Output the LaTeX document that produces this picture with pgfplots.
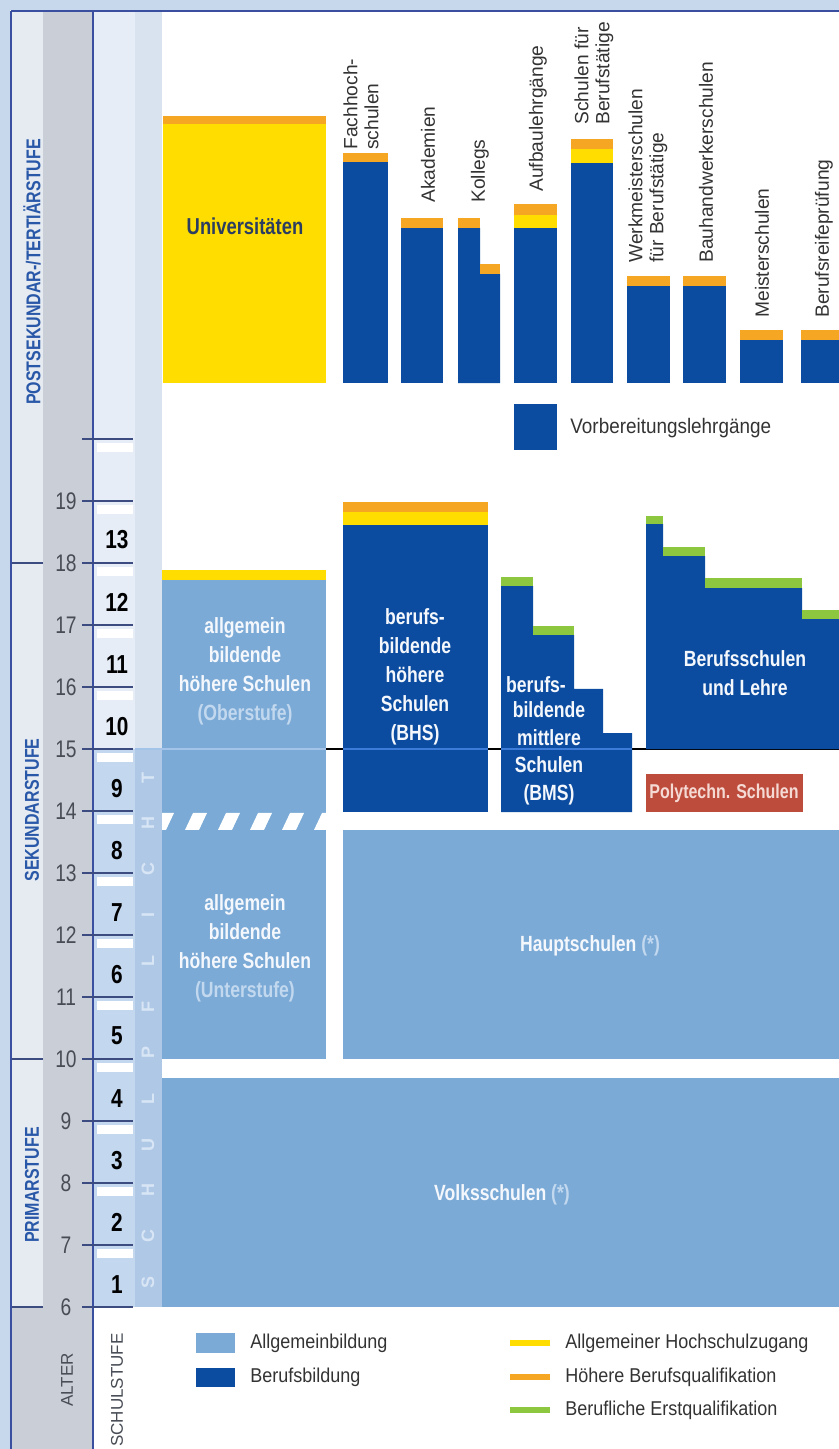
\documentclass[border=0pt]{standalone}
\usepackage{pgfplots}
\pgfplotsset{compat=1.18}
\usepackage{fontspec}
\setmainfont{Liberation Sans}
\newfontfamily\cond[FakeStretch=0.8]{Liberation Sans}
\newfontfamily\leg[FakeStretch=0.9]{Liberation Sans}

\definecolor{cBand}{HTML}{C8D8EC}
\definecolor{cLine}{HTML}{3B4FA0}
\definecolor{cStage}{HTML}{E6EBF1}
\definecolor{cGrey}{HTML}{CACFD7}
\definecolor{cStufeHi}{HTML}{E6EDF6}
\definecolor{cStufeLo}{HTML}{C3D7EE}
\definecolor{cPflHi}{HTML}{D9E3EF}
\definecolor{cPflLo}{HTML}{AFC8E6}
\definecolor{cTick}{HTML}{3D4C80}
\definecolor{cLight}{HTML}{7BAAD6}
\definecolor{cBlu}{HTML}{0C4CA0}
\definecolor{cYel}{HTML}{FFDD00}
\definecolor{cOra}{HTML}{F5A623}
\definecolor{cGrn}{HTML}{8DC63F}
\definecolor{cPoly}{HTML}{BD4C3D}
\definecolor{cDark}{HTML}{333333}
\definecolor{cWhite}{HTML}{F4F7FC}
\definecolor{cSub}{HTML}{C2D8EF}
\definecolor{cUniTxt}{HTML}{2C3D62}
\definecolor{cAgeTxt}{HTML}{474C55}
\definecolor{cStageTxt}{HTML}{2A58A8}
\definecolor{cPolyTxt}{HTML}{F5DAD4}
\definecolor{cPflTxt}{HTML}{D8E5F5}
\definecolor{cLineA}{HTML}{A3C4E8}
\definecolor{cLineB}{HTML}{3D7BD9}

\tikzset{
  blk/.style={align=center, text=cWhite, inner sep=0pt, font=\cond\bfseries\fontsize{11}{14.5}\selectfont},
  toplab/.style={rotate=90, anchor=west, inner sep=0pt, align=left, text=cDark, font=\fontsize{9.6}{10.5}\selectfont},
  stage/.style={rotate=90, inner sep=0pt, text=cStageTxt, font=\cond\bfseries\fontsize{10}{11}\selectfont},
  age/.style={inner sep=0pt, text=cAgeTxt, font=\cond\fontsize{12}{14}\selectfont},
  stufe/.style={inner sep=0pt, text=black, font=\cond\bfseries\fontsize{13}{15}\selectfont},
  pfl/.style={rotate=90, inner sep=0pt, text=cPflTxt, font=\bfseries\fontsize{9}{10}\selectfont},
  legtxt/.style={anchor=west, inner sep=0pt, text=cDark, font=\leg\fontsize{10}{12}\selectfont},
}

% filled rectangle: colour, x1, age1, x2, age2
\newcommand{\rc}[5]{\addplot[draw=none,fill=#1] coordinates {(#2,#3) (#4,#3) (#4,#5) (#2,#5)} -- cycle;}

\begin{document}
\begin{tikzpicture}
\begin{axis}[
  scale only axis, width=419.5pt, height=724.5pt,
  xmin=0, xmax=839, ymin=3.710, ymax=27.081,
  hide axis, no markers,
]
% frame and side columns
\rc{cBand}{0}{26.919}{839}{27.081}
\rc{cBand}{0}{3.710}{10}{27.081}
\rc{cStage}{12}{6}{43}{26.903}
\rc{cGrey}{12}{3.710}{43}{6}
\rc{cGrey}{43}{3.710}{92}{26.903}
\rc{cStufeHi}{94}{15}{135}{26.903}
\rc{cStufeLo}{94}{6}{135}{15}
\rc{cPflHi}{135}{15}{162}{26.903}
\rc{cPflLo}{135}{6}{162}{15}
\addplot[cLine, line width=1pt] coordinates {(10.5,26.911) (839,26.911)};
\addplot[cLine, line width=1pt] coordinates {(11,3.710) (11,26.911)};
\addplot[cLine, line width=1pt] coordinates {(93,3.710) (93,26.903)};

% white ruler bars below each tick
\rc{white}{97}{19.79}{133}{19.935}
\rc{white}{97}{18.79}{133}{18.935}
\rc{white}{97}{17.79}{133}{17.935}
\rc{white}{97}{16.79}{133}{16.935}
\rc{white}{97}{15.79}{133}{15.935}
\rc{white}{97}{14.79}{133}{14.935}
\rc{white}{97}{13.79}{133}{13.935}
\rc{white}{97}{12.79}{133}{12.935}
\rc{white}{97}{11.79}{133}{11.935}
\rc{white}{97}{10.79}{133}{10.935}
\rc{white}{97}{9.79}{133}{9.935}
\rc{white}{97}{8.79}{133}{8.935}
\rc{white}{97}{7.79}{133}{7.935}
\rc{white}{97}{6.79}{133}{6.935}

% age ticks and stage separators
\pgfplotsinvokeforeach{6,...,20}{
  \addplot[cTick, line width=0.8pt] coordinates {(82,#1) (133,#1)};
}
\addplot[cTick, line width=0.8pt] coordinates {(12,18) (43,18)};
\addplot[cTick, line width=0.8pt] coordinates {(12,10) (43,10)};
\addplot[cTick, line width=0.8pt] coordinates {(12,6) (43,6)};

% line at age 15
\addplot[black, line width=0.8pt] coordinates {(162,15) (839,15)};

% post-secondary
\rc{cYel}{163}{20.903}{326}{25.081}
\rc{cOra}{163}{25.081}{326}{25.210}
\rc{cBlu}{343}{20.903}{388}{24.468}
\rc{cOra}{343}{24.468}{388}{24.613}
\rc{cBlu}{401}{20.903}{443}{23.403}
\rc{cOra}{401}{23.403}{443}{23.565}
\addplot[draw=none, fill=cBlu] coordinates {(458,20.903) (500,20.903) (500,22.661) (480,22.661) (480,23.403) (458,23.403)} -- cycle;
\rc{cOra}{458}{23.403}{480}{23.565}
\rc{cOra}{480}{22.661}{500}{22.823}
\rc{cBlu}{514}{20.903}{557}{23.403}
\rc{cYel}{514}{23.403}{557}{23.613}
\rc{cOra}{514}{23.613}{557}{23.790}
\rc{cBlu}{571}{20.903}{613}{24.452}
\rc{cYel}{571}{24.452}{613}{24.677}
\rc{cOra}{571}{24.677}{613}{24.839}
\rc{cBlu}{627}{20.903}{670}{22.468}
\rc{cOra}{627}{22.468}{670}{22.629}
\rc{cBlu}{683}{20.903}{726}{22.468}
\rc{cOra}{683}{22.468}{726}{22.629}
\rc{cBlu}{740}{20.903}{783}{21.597}
\rc{cOra}{740}{21.597}{783}{21.758}
\rc{cBlu}{801}{20.903}{839}{21.597}
\rc{cOra}{801}{21.597}{839}{21.758}
\rc{cBlu}{514}{19.823}{557}{20.565}

% secondary
\rc{cLight}{162}{10}{326}{17.726}
\rc{cYel}{162}{17.726}{326}{17.887}
\rc{cBlu}{343}{13.984}{488}{18.613}
\rc{cYel}{343}{18.613}{488}{18.823}
\rc{cOra}{343}{18.823}{488}{18.984}
\addplot[draw=none, fill=cBlu] coordinates {(501,13.984) (632,13.984) (632,15.258) (603,15.258) (603,15.968) (574,15.968) (574,16.839) (533,16.839) (533,17.629) (501,17.629)} -- cycle;
\rc{cGrn}{501}{17.629}{533}{17.774}
\rc{cGrn}{533}{16.839}{574}{16.984}
\addplot[draw=none, fill=cBlu] coordinates {(646,15) (839,15) (839,17.097) (802,17.097) (802,17.597) (705,17.597) (705,18.113) (663,18.113) (663,18.629) (646,18.629)} -- cycle;
\rc{cGrn}{646}{18.629}{663}{18.758}
\rc{cGrn}{663}{18.113}{705}{18.258}
\rc{cGrn}{705}{17.597}{802}{17.758}
\rc{cGrn}{802}{17.097}{839}{17.242}
\rc{cPoly}{646}{13.984}{803}{14.597}
\rc{cLight}{343}{10}{839}{13.694}
\addplot[cLineA, line width=0.8pt] coordinates {(135,15) (326,15)};
\addplot[cLineB, line width=0.8pt] coordinates {(343,15) (488,15)};
\addplot[cLineB, line width=0.8pt] coordinates {(501,15) (632,15)};

% dashed border between lower and upper AHS
\addplot[draw=none, fill=white] coordinates {(162,13.694) (166,13.694) (174,13.968) (162,13.968)} -- cycle;
\addplot[draw=none, fill=white] coordinates {(185,13.694) (199,13.694) (207,13.968) (193,13.968)} -- cycle;
\addplot[draw=none, fill=white] coordinates {(218,13.694) (232,13.694) (240,13.968) (226,13.968)} -- cycle;
\addplot[draw=none, fill=white] coordinates {(250,13.694) (264,13.694) (272,13.968) (258,13.968)} -- cycle;
\addplot[draw=none, fill=white] coordinates {(282,13.694) (296,13.694) (304,13.968) (290,13.968)} -- cycle;
\addplot[draw=none, fill=white] coordinates {(314,13.694) (326,13.694) (326,13.968) (322,13.968)} -- cycle;

% primary
\rc{cLight}{162}{6}{839}{9.694}

% legend
\rc{cLight}{196}{5.258}{235}{5.581}
\rc{cBlu}{196}{4.710}{235}{5.016}
\addplot[cYel, line width=3pt] coordinates {(510,5.419) (550,5.419)};
\addplot[cOra, line width=3pt] coordinates {(510,4.871) (550,4.871)};
\addplot[cGrn, line width=3pt] coordinates {(510,4.339) (550,4.339)};
\node[legtxt] at (250,5.419) {Allgemeinbildung};
\node[legtxt] at (250,4.871) {Berufsbildung};
\node[legtxt] at (565,5.419) {Allgemeiner Hochschulzugang};
\node[legtxt] at (565,4.871) {Höhere Berufsqualifikation};
\node[legtxt] at (565,4.339) {Berufliche Erstqualifikation};
\node[legtxt, font=\leg\fontsize{10.5}{12}\selectfont] at (570,20.177) {Vorbereitungslehrgänge};

% block texts
\node[inner sep=0pt, text=cUniTxt, font=\cond\bfseries\fontsize{11.5}{13}\selectfont] at (245,23.435) {Universitäten};
\node[blk] at (245,16.258) {allgemein\\bildende\\höhere Schulen\\\textcolor{cSub}{(Oberstufe)}};
\node[blk] at (245,11.782) {allgemein\\bildende\\höhere Schulen\\\textcolor{cSub}{(Unterstufe)}};
\node[blk] at (415,16.169) {berufs-\\bildende\\höhere\\Schulen\\(BHS)};
\node[blk] at (536,16.032) {berufs-};
\node[blk, font=\cond\bfseries\fontsize{11}{13.75}\selectfont] at (549,14.927) {bildende\\mittlere\\Schulen\\(BMS)};
\node[blk] at (745,16.226) {Berufsschulen\\und Lehre};
\node[blk] at (590,11.823) {Hauptschulen \textcolor{cSub}{(*)}};
\node[blk] at (502,7.806) {Volksschulen \textcolor{cSub}{(*)}};
\node[inner sep=0pt, text=cPolyTxt, font=\cond\bfseries\fontsize{10}{12}\selectfont] at (724,14.29) {Polytechn. Schulen};

% rotated labels of post-secondary types
\node[toplab] at (361,24.661) {Fachhoch-\\schulen};
\node[toplab] at (428,23.806) {Akademien};
\node[toplab] at (480,23.806) {Kollegs};
\node[toplab] at (538,23.984) {Aufbaulehrgänge};
\node[toplab] at (594,25.065) {Schulen für\\Berufstätige};
\node[toplab] at (648,22.839) {Werkmeisterschulen\\für Berufstätige};
\node[toplab] at (706,22.839) {Bauhandwerkerschulen};
\node[toplab] at (762,21.952) {Meisterschulen};
\node[toplab] at (824,21.952) {Berufsreifeprüfung};

% stage labels
\node[stage] at (32,22.694) {POSTSEKUNDAR-/TERTIÄRSTUFE};
\node[stage] at (32,14.016) {SEKUNDARSTUFE};
\node[stage] at (32,7.968) {PRIMARSTUFE};
\node[rotate=90, inner sep=0pt, text=cAgeTxt, font=\fontsize{8.5}{10}\selectfont] at (67,4.823) {ALTER};
\node[rotate=90, inner sep=0pt, text=cAgeTxt, font=\fontsize{8.5}{10}\selectfont] at (117,4.661) {SCHULSTUFE};

% ages
\pgfplotsinvokeforeach{6,...,19}{
  \node[age] at (66,#1) {#1};
}
% school grades
\node[stufe] at (117,6.37) {1};
\node[stufe] at (117,7.37) {2};
\node[stufe] at (117,8.37) {3};
\node[stufe] at (117,9.37) {4};
\node[stufe] at (117,10.37) {5};
\node[stufe] at (117,11.37) {6};
\node[stufe] at (117,12.37) {7};
\node[stufe] at (117,13.37) {8};
\node[stufe] at (117,14.37) {9};
\node[stufe] at (117,15.37) {10};
\node[stufe] at (117,16.37) {11};
\node[stufe] at (117,17.37) {12};
\node[stufe] at (117,18.37) {13};

% compulsory schooling letters
\node[pfl] at (148,6.40) {S};
\node[pfl] at (148,7.14) {C};
\node[pfl] at (148,7.88) {H};
\node[pfl] at (148,8.62) {U};
\node[pfl] at (148,9.36) {L};
\node[pfl] at (148,10.10) {P};
\node[pfl] at (148,10.84) {F};
\node[pfl] at (148,11.58) {L};
\node[pfl] at (148,12.32) {I};
\node[pfl] at (148,13.06) {C};
\node[pfl] at (148,13.80) {H};
\node[pfl] at (148,14.54) {T};
\end{axis}
\end{tikzpicture}
\end{document}
